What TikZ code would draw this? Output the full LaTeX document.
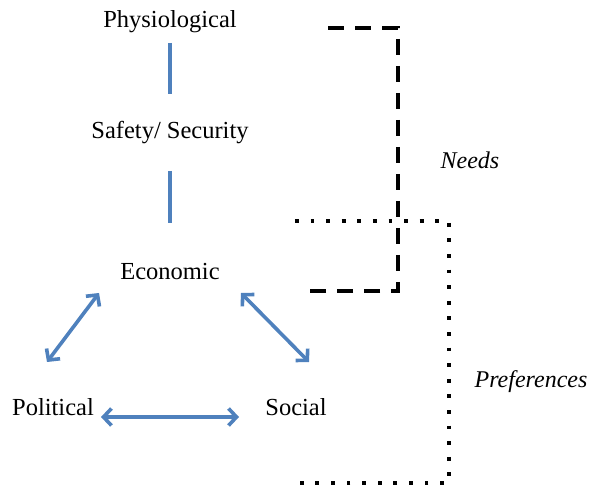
\documentclass[tikz,border=0pt]{standalone}
\usepackage{fontspec}
\setmainfont{Liberation Serif}
\usetikzlibrary{arrows.meta}
\definecolor{linkblue}{RGB}{79,129,189}
\tikzset{
  lbl/.style={inner sep=0pt, font=\fontsize{24.5}{27}\selectfont},
  ilbl/.style={lbl, font=\fontsize{24}{27}\selectfont\itshape},
  link/.style={draw=linkblue, line width=3.6pt},
  biarrow/.style={link, {Straight Barb[length=8pt,width=17pt,line width=3.6pt]}-{Straight Barb[length=8pt,width=17pt,line width=3.6pt]}},
  needsline/.style={line width=4pt, dash pattern=on 16pt off 11pt},
  prefline/.style={line width=3.8pt, dash pattern=on 3.8pt off 11.8pt}
}
\begin{document}
\begin{tikzpicture}[x=1pt,y=-1pt]
\useasboundingbox (0,0) rectangle (590,489);
\node[lbl] (phys) at (170,22) {Physiological};
\node[lbl] (safety) at (170,133) {Safety/ Security};
\node[lbl] (econ) at (170,272) {Economic};
\node[lbl] (pol) at (53,407) {Political};
\node[lbl] (soc) at (296,407) {Social};
\node[ilbl] (needs) at (470,160) {Needs};
\node[ilbl] (pref) at (531,382) {Preferences};

\draw[link, shorten <=21pt, shorten >=39pt] (phys.center) -- (safety.center);
\draw[link, shorten <=38pt, shorten >=49pt] (safety.center) -- (econ.center);

\coordinate (ep1) at (99,293);
\coordinate (ep2) at (47,362);
\coordinate (es1) at (241,293);
\coordinate (es2) at (309,362);
\coordinate (ps1) at (101,417);
\coordinate (ps2) at (239,417);
\draw[biarrow] (ep1) -- (ep2);
\draw[biarrow] (es1) -- (es2);
\draw[biarrow] (ps1) -- (ps2);

\draw[needsline] (328,28) -- (398,28) -- (398,291) -- (310,291);
\draw[prefline, dash phase=-1.9pt] (293,221) -- (449,221) -- (449,483) -- (293,483);
\end{tikzpicture}
\end{document}
